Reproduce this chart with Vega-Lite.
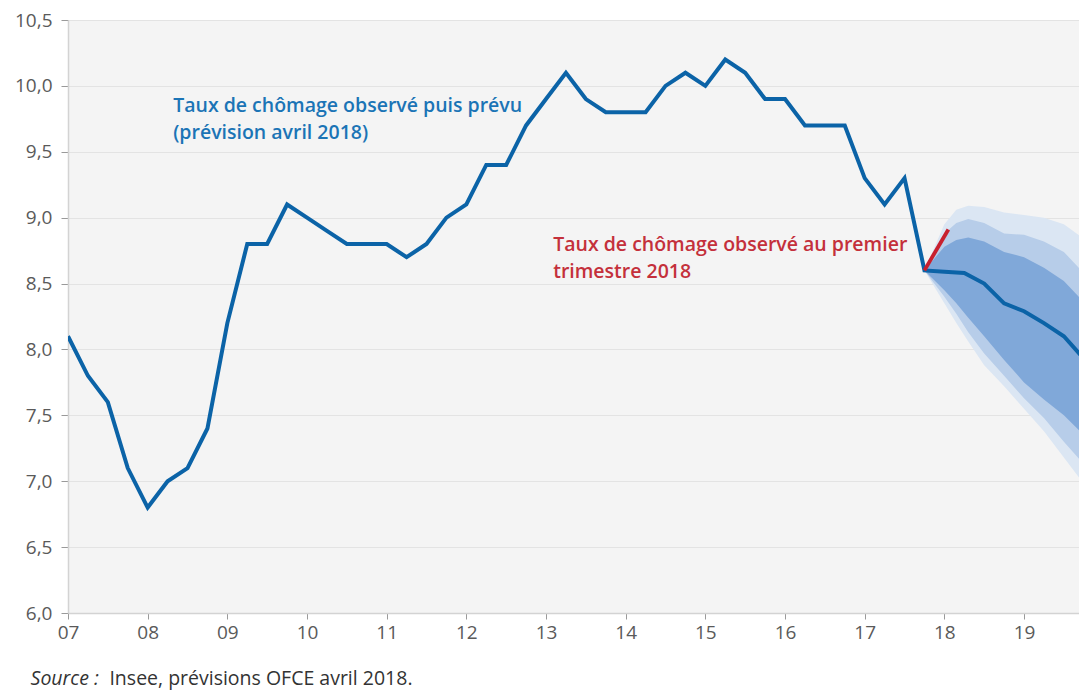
{
  "$schema": "https://vega.github.io/schema/vega-lite/v6.json",
  "autosize": "none",
  "width": 1011,
  "height": 593,
  "padding": {"left": 68, "top": 20, "right": 0, "bottom": 78},
  "background": "#ffffff",
  "config": {
    "view": {"fill": "#f4f4f4", "stroke": null},
    "font": "Open Sans",
    "axis": {"labelFont": "Open Sans", "labelColor": "#5a5a5a", "labelFontSize": 19}
  },
  "datasets": {
    "serie": [
      {"t": 2007.0, "v": 8.1}, {"t": 2007.25, "v": 7.8}, {"t": 2007.5, "v": 7.6}, {"t": 2007.75, "v": 7.1},
      {"t": 2008.0, "v": 6.8}, {"t": 2008.25, "v": 7.0}, {"t": 2008.5, "v": 7.1}, {"t": 2008.75, "v": 7.4},
      {"t": 2009.0, "v": 8.2}, {"t": 2009.25, "v": 8.8}, {"t": 2009.5, "v": 8.8}, {"t": 2009.75, "v": 9.1},
      {"t": 2010.0, "v": 9.0}, {"t": 2010.25, "v": 8.9}, {"t": 2010.5, "v": 8.8}, {"t": 2010.75, "v": 8.8},
      {"t": 2011.0, "v": 8.8}, {"t": 2011.25, "v": 8.7}, {"t": 2011.5, "v": 8.8}, {"t": 2011.75, "v": 9.0},
      {"t": 2012.0, "v": 9.1}, {"t": 2012.25, "v": 9.4}, {"t": 2012.5, "v": 9.4}, {"t": 2012.75, "v": 9.7},
      {"t": 2013.0, "v": 9.9}, {"t": 2013.25, "v": 10.1}, {"t": 2013.5, "v": 9.9}, {"t": 2013.75, "v": 9.8},
      {"t": 2014.0, "v": 9.8}, {"t": 2014.25, "v": 9.8}, {"t": 2014.5, "v": 10.0}, {"t": 2014.75, "v": 10.1},
      {"t": 2015.0, "v": 10.0}, {"t": 2015.25, "v": 10.2}, {"t": 2015.5, "v": 10.1}, {"t": 2015.75, "v": 9.9},
      {"t": 2016.0, "v": 9.9}, {"t": 2016.25, "v": 9.7}, {"t": 2016.5, "v": 9.7}, {"t": 2016.75, "v": 9.7},
      {"t": 2017.0, "v": 9.3}, {"t": 2017.25, "v": 9.1}, {"t": 2017.5, "v": 9.3}, {"t": 2017.75, "v": 8.6},
      {"t": 2018.0, "v": 8.59}, {"t": 2018.25, "v": 8.58}, {"t": 2018.5, "v": 8.5}, {"t": 2018.75, "v": 8.35},
      {"t": 2019.0, "v": 8.29}, {"t": 2019.25, "v": 8.2}, {"t": 2019.5, "v": 8.1}, {"t": 2019.75, "v": 7.93}
    ],
    "fan": [
      {"t": 2017.75, "lo3": 8.6, "hi3": 8.6, "lo2": 8.6, "hi2": 8.6, "lo1": 8.6, "hi1": 8.6},
      {"t": 2018.0, "lo3": 8.35, "hi3": 8.95, "lo2": 8.4, "hi2": 8.88, "lo1": 8.45, "hi1": 8.78},
      {"t": 2018.15, "lo3": 8.2, "hi3": 9.06, "lo2": 8.27, "hi2": 8.96, "lo1": 8.35, "hi1": 8.83},
      {"t": 2018.3, "lo3": 8.06, "hi3": 9.09, "lo2": 8.13, "hi2": 8.99, "lo1": 8.24, "hi1": 8.85},
      {"t": 2018.5, "lo3": 7.88, "hi3": 9.08, "lo2": 7.97, "hi2": 8.96, "lo1": 8.1, "hi1": 8.82},
      {"t": 2018.75, "lo3": 7.72, "hi3": 9.04, "lo2": 7.8, "hi2": 8.88, "lo1": 7.92, "hi1": 8.74},
      {"t": 2019.0, "lo3": 7.55, "hi3": 9.02, "lo2": 7.63, "hi2": 8.87, "lo1": 7.75, "hi1": 8.7},
      {"t": 2019.25, "lo3": 7.38, "hi3": 9.0, "lo2": 7.48, "hi2": 8.82, "lo1": 7.62, "hi1": 8.62},
      {"t": 2019.5, "lo3": 7.18, "hi3": 8.95, "lo2": 7.3, "hi2": 8.74, "lo1": 7.5, "hi1": 8.52},
      {"t": 2019.75, "lo3": 6.98, "hi3": 8.84, "lo2": 7.13, "hi2": 8.58, "lo1": 7.35, "hi1": 8.36}
    ],
    "red": [
      {"t": 2017.75, "v": 8.6}, {"t": 2018.05, "v": 8.91}
    ]
  },
  "encoding": {
    "x": {
      "field": "t", "type": "quantitative",
      "scale": {"domain": [2007, 2019.69], "nice": false, "zero": false},
      "axis": {
        "title": null, "values": [2007, 2008, 2009, 2010, 2011, 2012, 2013, 2014, 2015, 2016, 2017, 2018, 2019],
        "labelExpr": "substring(toString(datum.value), 2)",
        "grid": false, "domainColor": "#d3d3d3", "domainWidth": 1.5,
        "tickColor": "#9a9a9a", "tickSize": 6, "labelPadding": 4, "labelFlush": false
      }
    }
  },
  "layer": [
    {
      "data": {"name": "fan"},
      "mark": {"type": "area", "color": "#dbe6f3", "clip": true, "opacity": 1},
      "encoding": {
        "y": {"field": "lo3", "type": "quantitative",
          "scale": {"domain": [6, 10.5], "nice": false, "zero": false},
          "axis": {
            "title": null, "values": [6, 6.5, 7, 7.5, 8, 8.5, 9, 9.5, 10, 10.5],
            "labelExpr": "replace(format(datum.value, '.1f'), '.', ',')",
            "gridColor": "#e3e3e3", "gridWidth": 1, "domainColor": "#d3d3d3", "domainWidth": 1.5,
            "tickColor": "#9a9a9a", "tickSize": 7, "labelPadding": 9, "labelFlush": false
          }
        },
        "y2": {"field": "hi3"}
      }
    },
    {
      "data": {"name": "fan"},
      "mark": {"type": "area", "color": "#b7cde9", "clip": true, "opacity": 1},
      "encoding": {
        "y": {"field": "lo2", "type": "quantitative"},
        "y2": {"field": "hi2"}
      }
    },
    {
      "data": {"name": "fan"},
      "mark": {"type": "area", "color": "#80a8d9", "clip": true, "opacity": 1},
      "encoding": {
        "y": {"field": "lo1", "type": "quantitative"},
        "y2": {"field": "hi1"}
      }
    },
    {
      "data": {"name": "serie"},
      "mark": {"type": "line", "color": "#0b63a7", "strokeWidth": 4, "clip": true, "strokeJoin": "miter"},
      "encoding": {
        "y": {"field": "v", "type": "quantitative"}
      }
    },
    {
      "data": {"name": "red"},
      "mark": {"type": "line", "color": "#c8202e", "strokeWidth": 3.8, "clip": true},
      "encoding": {
        "y": {"field": "v", "type": "quantitative"}
      }
    },
    {
      "data": {"values": [
        {"t": 2008.32, "v": 9.8, "label": "Taux de chômage observé puis prévu"},
        {"t": 2008.32, "v": 9.6, "label": "(prévision avril 2018)"}
      ]},
      "mark": {"type": "text", "align": "left", "baseline": "alphabetic", "font": "Open Sans", "fontWeight": 600, "fontSize": 19.5, "color": "#1b74b6"},
      "encoding": {
        "y": {"field": "v", "type": "quantitative"},
        "text": {"field": "label"}
      }
    },
    {
      "data": {"values": [
        {"t": 2013.09, "v": 8.75, "label": "Taux de chômage observé au premier"},
        {"t": 2013.09, "v": 8.54, "label": "trimestre 2018"}
      ]},
      "mark": {"type": "text", "align": "left", "baseline": "alphabetic", "font": "Open Sans", "fontWeight": 600, "fontSize": 19.5, "color": "#c4303b"},
      "encoding": {
        "y": {"field": "v", "type": "quantitative"},
        "text": {"field": "label"}
      }
    },
    {
      "data": {"values": [
        {"t": 2006.53, "v": 5.45, "label": "Source :"}
      ]},
      "mark": {"type": "text", "align": "left", "baseline": "alphabetic", "font": "Open Sans", "fontStyle": "italic", "fontSize": 19.5, "color": "#333333"},
      "encoding": {
        "y": {"field": "v", "type": "quantitative"},
        "text": {"field": "label"}
      }
    },
    {
      "data": {"values": [
        {"t": 2007.52, "v": 5.45, "label": "Insee, prévisions OFCE avril 2018."}
      ]},
      "mark": {"type": "text", "align": "left", "baseline": "alphabetic", "font": "Open Sans", "fontSize": 19.5, "color": "#333333"},
      "encoding": {
        "y": {"field": "v", "type": "quantitative"},
        "text": {"field": "label"}
      }
    }
  ]
}
